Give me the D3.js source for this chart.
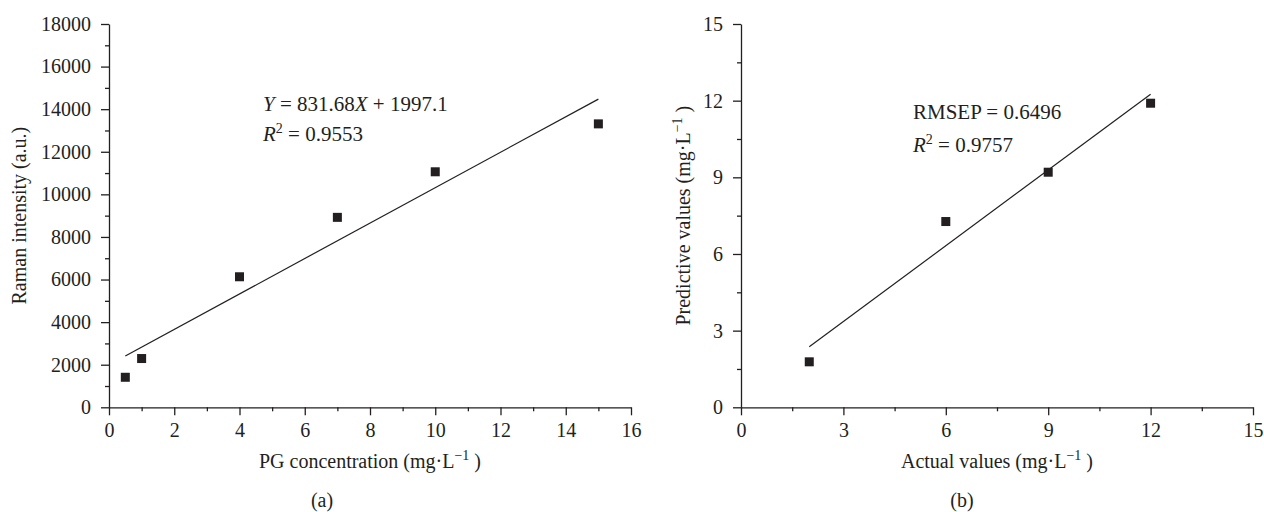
<!DOCTYPE html>
<html>
<head>
<meta charset="utf-8">
<script src="https://cdn.jsdelivr.net/npm/d3@7"></script>
<style>
  body { margin: 0; background: #fff; }
  svg { display: block; font-family: "Liberation Serif", "DejaVu Serif", serif; }
  .axis path, .axis line { stroke: #231f20; stroke-width: 1.3; }
  .axis text { font-size: 20px; fill: #231f20; font-family: "Liberation Serif", serif; }
</style>
</head>
<body>
<svg id="chart" width="1264" height="512"></svg>
<script>
// (a) calibration data
const concX = [0.5, 1, 4, 7, 10, 15];
const ramanY = [1410, 2290, 6130, 8920, 11060, 13310];
const fitSlopeA = 831.68;
const fitInterceptA = 1997.1;
const ticksAx = [0, 2, 4, 6, 8, 10, 12, 14, 16];
const ticksAy = [0, 2000, 4000, 6000, 8000, 10000, 12000, 14000, 16000, 18000];

// (b) prediction data
const actualX = [2, 6, 9, 12];
const predY = [1.78, 7.27, 9.2, 11.9];
const fitBx = [2, 12];
const fitBy = [2.37, 12.25];
const ticksB = [0, 3, 6, 9, 12, 15];

const ink = '#231f20';
const fs = 20;
const svg = d3.select('#chart');

// Function to draw one panel with axes, minor ticks, points and fit line
function drawPanel(opts) {
    const x = d3.scaleLinear().domain(opts.xDomain).range(opts.xRange);
    const y = d3.scaleLinear().domain(opts.yDomain).range([407.3, 24]);
    const g = svg.append('g');

    // minor ticks first
    g.append('g').attr('class', 'axis')
        .attr('transform', `translate(0,${y(0)})`)
        .call(d3.axisBottom(x).tickValues(opts.xMinor).tickSize(4).tickFormat(''))
        .select('.domain').remove();
    g.append('g').attr('class', 'axis')
        .attr('transform', `translate(${x(0)},0)`)
        .call(d3.axisLeft(y).tickValues(opts.yMinor).tickSize(4).tickFormat(''))
        .select('.domain').remove();

    // major axes
    g.append('g').attr('class', 'axis')
        .attr('transform', `translate(0,${y(0)})`)
        .call(d3.axisBottom(x).tickValues(opts.xTicks).tickFormat(d3.format('d'))
            .tickSize(8).tickSizeOuter(0).tickPadding(8));
    g.append('g').attr('class', 'axis')
        .attr('transform', `translate(${x(0)},0)`)
        .call(d3.axisLeft(y).tickValues(opts.yTicks).tickFormat(d3.format('d'))
            .tickSize(8).tickSizeOuter(0).tickPadding(10));

    // fit line
    g.append('line')
        .attr('x1', x(opts.fitX[0])).attr('y1', y(opts.fitY[0]))
        .attr('x2', x(opts.fitX[1])).attr('y2', y(opts.fitY[1]))
        .attr('stroke', ink).attr('stroke-width', 1.2);

    // square markers
    const s = 9;
    g.selectAll('rect.pt')
        .data(opts.px.map((d, i) => [d, opts.py[i]]))
        .enter()
        .append('rect')
        .attr('class', 'pt')
        .attr('x', d => x(d[0]) - s / 2)
        .attr('y', d => y(d[1]) - s / 2)
        .attr('width', s)
        .attr('height', s)
        .attr('fill', ink);

    // x axis title
    const xt = g.append('text')
        .attr('x', (opts.xRange[0] + opts.xRange[1]) / 2)
        .attr('y', 468)
        .attr('text-anchor', 'middle')
        .attr('font-size', fs).attr('fill', ink);
    unitLabel(xt, opts.xTitle);

    // y axis title
    const yt = g.append('text')
        .attr('transform', `translate(${opts.yTitleX},${(407.3 + 24) / 2}) rotate(-90)`)
        .attr('text-anchor', 'middle')
        .attr('font-size', fs).attr('fill', ink);
    if (opts.yUnit) unitLabel(yt, opts.yTitle); else yt.text(opts.yTitle);

    // panel letter
    g.append('text')
        .attr('x', opts.letterX).attr('y', 507)
        .attr('text-anchor', 'middle')
        .attr('font-size', fs).attr('fill', ink)
        .text(opts.letter);

    return g;
}

// Text like "Name (mg·L−1)" with superscript
function unitLabel(t, name) {
    t.append('tspan').text(name + ' (mg·L');
    t.append('tspan').attr('dy', -8).attr('font-size', 14).text('−1');
    t.append('tspan').attr('dy', 8).text(' )');
}

const gA = drawPanel({
    xDomain: [0, 16], xRange: [109, 631],
    yDomain: [0, 18000],
    xTicks: ticksAx, yTicks: ticksAy,
    xMinor: d3.range(1, 16, 2), yMinor: d3.range(1000, 18000, 2000),
    px: concX, py: ramanY,
    fitX: [concX[0], concX[concX.length - 1]],
    fitY: [fitSlopeA * concX[0] + fitInterceptA, fitSlopeA * concX[concX.length - 1] + fitInterceptA],
    xTitle: 'PG concentration',
    yTitle: 'Raman intensity (a.u.)', yTitleX: 26, yUnit: false,
    letter: '(a)', letterX: 322
});

const gB = drawPanel({
    xDomain: [0, 15], xRange: [741, 1253],
    yDomain: [0, 15],
    xTicks: ticksB, yTicks: ticksB,
    xMinor: d3.range(1.5, 15, 3), yMinor: d3.range(1.5, 15, 3),
    px: actualX, py: predY,
    fitX: fitBx, fitY: fitBy,
    xTitle: 'Actual values',
    yTitle: 'Predictive values', yTitleX: 690, yUnit: true,
    letter: '(b)', letterX: 962
});

// annotations
function annot(g, xPos, yPos, parts) {
    const t = g.append('text').attr('x', xPos).attr('y', yPos)
        .attr('font-size', 21).attr('fill', ink);
    parts.forEach(p => {
        const sp = t.append('tspan').text(p.t);
        if (p.i) sp.attr('font-style', 'italic');
        if (p.sup) sp.attr('dy', -8).attr('font-size', 14);
        if (p.down) sp.attr('dy', 8);
    });
}

annot(gA, 263, 111, [{ t: 'Y', i: true }, { t: ' = 831.68' }, { t: 'X', i: true }, { t: ' + 1997.1' }]);
annot(gA, 263, 141, [{ t: 'R', i: true }, { t: '2', sup: true }, { t: ' = 0.9553', down: true }]);
annot(gB, 913, 119, [{ t: 'RMSEP = 0.6496' }]);
annot(gB, 913, 152, [{ t: 'R', i: true }, { t: '2', sup: true }, { t: ' = 0.9757', down: true }]);
</script>
</body>
</html>
